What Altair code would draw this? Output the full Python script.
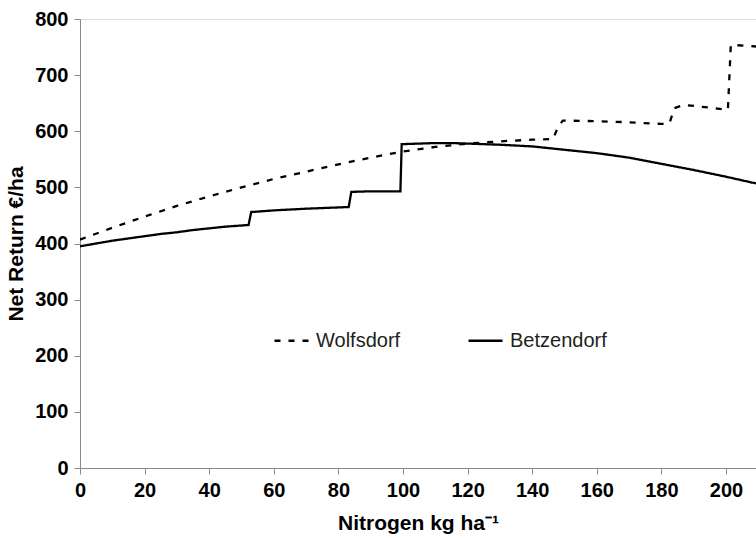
import altair as alt
import pandas as pd

# Betzendorf (solid)
betz_x = [0, 5, 10, 15, 20, 25, 30, 35, 40, 45, 52.2, 53, 60, 70, 83.2, 84, 90, 99.2, 99.6,
          105, 110, 115, 120, 130, 140, 150, 160, 170, 180, 190, 200, 209.3]
betz_y = [395, 400, 405, 409, 413, 417, 420, 424, 427, 430, 433, 456, 459, 462, 465, 492, 493, 493, 577,
          578, 579, 579, 578, 576, 573, 567, 561, 553, 542, 531, 519, 507]

# Wolfsdorf (dashed)
wolf_x = [0, 10, 20, 30, 40, 50, 60, 70, 80, 90, 100, 110, 120, 130, 140, 146.5, 148, 149.5,
          160, 170, 180, 182.5, 184, 187, 195, 200.6, 201.5, 209.3]
wolf_y = [407, 428, 448, 467, 484, 500, 515, 528, 541, 553, 564, 572, 578, 582, 585, 586, 608, 619,
          618, 616, 613, 614, 641, 647, 642, 638, 754, 751]

series = ["Wolfsdorf", "Betzendorf"]
x_ticks = list(range(0, 201, 20))
y_ticks = list(range(0, 801, 100))

df = pd.concat([
    pd.DataFrame({"N": wolf_x, "R": wolf_y, "Site": "Wolfsdorf", "o": range(len(wolf_x))}),
    pd.DataFrame({"N": betz_x, "R": betz_y, "Site": "Betzendorf", "o": range(len(betz_x))}),
])

FONT = "Liberation Sans"
INK = "#231f20"

chart = alt.Chart(df).mark_line(color="black", strokeWidth=2.3, clip=True).encode(
    x=alt.X("N:Q", scale=alt.Scale(domain=[0, 209.3], nice=False, zero=False),
            axis=alt.Axis(values=x_ticks, title="Nitrogen kg ha⁻¹", grid=False,
                          labelFontSize=20, labelFontWeight="bold", labelPadding=6,
                          titleFontSize=21, titleFontWeight="bold", titlePadding=12,
                          tickSize=6, labelFlush=False)),
    y=alt.Y("R:Q", scale=alt.Scale(domain=[0, 800], nice=False),
            axis=alt.Axis(values=y_ticks, title="Net Return €/ha", grid=False,
                          labelFontSize=20, labelFontWeight="bold", labelPadding=6,
                          titleFontSize=21, titleFontWeight="bold", titlePadding=8,
                          tickSize=6)),
    strokeDash=alt.StrokeDash("Site:N",
                              scale=alt.Scale(domain=series, range=[[6, 8], [1, 0]]),
                              legend=alt.Legend(title=None, orient="none", legendX=193, legendY=303,
                                                direction="horizontal", symbolType="stroke",
                                                symbolSize=1156, symbolStrokeWidth=2.3,
                                                symbolStrokeColor="black", labelFontSize=20,
                                                labelFont=FONT, labelColor=INK, labelOffset=6,
                                                columnPadding=62)),
    order="o:Q",
).properties(
    width=676, height=449,
    autosize=alt.AutoSizeParams(type="none"),
    padding={"left": 80, "top": 19, "right": 0, "bottom": 70},
).configure_view(stroke=None).configure_axis(
    labelFont=FONT, titleFont=FONT, labelColor=INK, titleColor=INK,
    domainColor=INK, tickColor=INK, domainWidth=1.5, tickWidth=1.5,
).configure(background="white")

chart.save("out.html", embed_options={"renderer": "svg", "actions": False})
